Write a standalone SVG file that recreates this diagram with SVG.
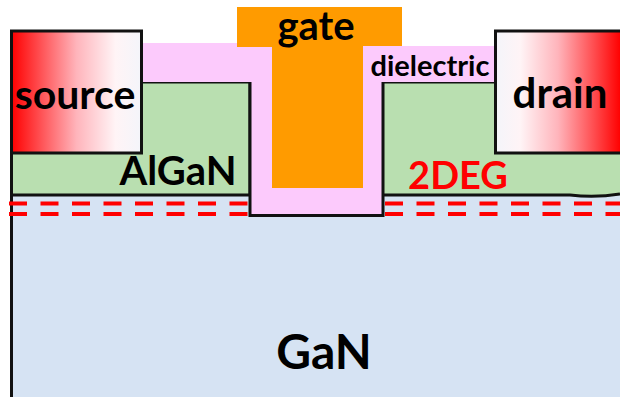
<svg xmlns="http://www.w3.org/2000/svg" width="620" height="397" viewBox="0 0 620 397">
<defs>
<linearGradient id="gs" x1="0" x2="1" y1="0" y2="0"><stop offset="0" stop-color="#ff0000"/><stop offset="0.5" stop-color="#ffb4bb"/><stop offset="0.8" stop-color="#fff4f6"/><stop offset="1" stop-color="#f4f5fa"/></linearGradient>
<linearGradient id="gd" x1="1" x2="0" y1="0" y2="0"><stop offset="0" stop-color="#ff0000"/><stop offset="0.5" stop-color="#ffb4bb"/><stop offset="0.8" stop-color="#fff4f6"/><stop offset="1" stop-color="#f4f5fa"/></linearGradient>
</defs>
<style>
.l{fill:none;stroke:#111;stroke-width:3}
.d{fill:none;stroke:#ff0000;stroke-width:4;stroke-dasharray:18 13.5}
text{font-family:Lato,"Liberation Sans",sans-serif;font-weight:700;fill:#000;text-anchor:middle}
</style>
<rect width="620" height="397" fill="#fff"/>
<g id="gan"><path d="M11 195H620V397H11Z" fill="#d6e3f3"/><path class="l" d="M11.500 195V397"/><text x="324" y="369" font-size="48">GaN</text></g>
<g id="algan-left"><path d="M11 153H142V82H250V195H11Z" fill="#b9dfb0"/><path class="l" d="M142 82H250V195H11.500V153"/><text x="178" y="185" font-size="40">AlGaN</text></g>
<g id="algan-right"><path d="M383 82H495V153H620V195H383Z" fill="#b9dfb0"/><path class="l" d="M383 82H495M383 195H570Q595 198 620 194"/></g>
<g id="dielectric"><path d="M141 43H272V188H363V46H495V82H383V216H250V82H141Z" fill="#fccafc"/><path class="l" d="M250 82V215.500H383V82"/><text x="430" y="76" font-size="29">dielectric</text></g>
<g id="gate"><path d="M237 7H402V46H363V188H272V47H237Z" fill="#ff9b00"/><text x="316" y="39.500" font-size="40">gate</text></g>
<g id="source"><rect x="11.500" y="31" width="130" height="122" fill="url(#gs)"/><path class="l" d="M11.500 153V31H141.500V153H11.500"/><text x="75" y="109" font-size="41">source</text></g>
<g id="drain"><rect x="495.500" y="31" width="125" height="122" fill="url(#gd)"/><path class="l" d="M620 31H495.500V153H620"/><text x="560" y="108" font-size="42">drain</text></g>
<g id="channel">
<path class="d" d="M9 203.500H248M9 214H248"/>
<path class="d" d="M385 203.500H620M385 214H620"/>
<text x="458" y="189" font-size="38" style="fill:#ff0000">2DEG</text>
</g>
</svg>
